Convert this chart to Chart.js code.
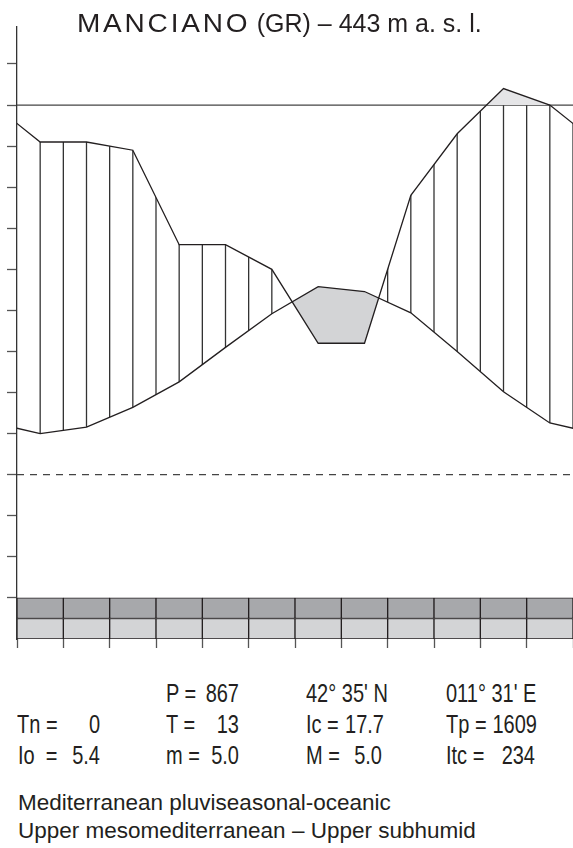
<!DOCTYPE html>
<html>
<head>
<meta charset="utf-8">
<title>Manciano</title>
<script src="https://cdn.jsdelivr.net/npm/chart.js@4.4.0/dist/chart.umd.min.js"></script>
<style>
    html, body { margin: 0; padding: 0; background: #fff; }
    #page { position: relative; width: 573px; height: 848px; overflow: hidden; color: #231f20; font-family: "Liberation Sans", Arial, sans-serif; }
    #wrap { position: absolute; left: 0; top: 0; width: 573px; height: 660px; }
    #title { position: absolute; left: 77px; top: 11px; font-size: 25px; line-height: 25px; white-space: nowrap; }
    #title span { display: inline-block; letter-spacing: 2.5px; transform: scaleX(1.12); transform-origin: 0 0; margin-right: 18px; }
    .cell { position: absolute; display: flex; justify-content: space-between; white-space: pre; font-size: 25px; line-height: 25px; transform: scaleX(0.8); transform-origin: 0 0; }
    .desc { position: absolute; left: 18px; font-size: 22.5px; line-height: 23px; white-space: nowrap; }
</style>
</head>
<body>
<div id="page">
    <div id="wrap"><canvas id="climChart"></canvas></div>
    <div id="title"><span>MANCIANO</span> (GR) – 443 m a. s. l.</div>
    <div id="stats"></div>
    <div class="desc" style="top:791px">Mediterranean pluviseasonal-oceanic</div>
    <div class="desc" style="top:819px">Upper mesomediterranean – Upper subhumid</div>
</div>
<script>
// data
const months = ['Jan', 'Feb', 'Mar', 'Apr', 'May', 'Jun', 'Jul', 'Aug', 'Sep', 'Oct', 'Nov', 'Dec'];
const temperature = [5.0, 5.8, 8.2, 11.3, 15.5, 19.6, 22.9, 22.3, 19.7, 15.0, 10.1, 6.3];   // °C
const precipitation = [81, 81, 79, 56, 56, 50, 32, 32, 68, 83, 94, 90];                   // mm
const frostUpper = [1, 1, 1, 1, 1, 1, 1, 1, 1, 1, 1, 1];
const frostLower = [1, 1, 1, 1, 1, 1, 1, 1, 1, 1, 1, 1];
const humidLine = 90;     // mm
const freezeLine = 0;     // °C
const tempMin = -20;
const tempMax = 54.5;
const tempTicks = [-15, 50];

// stats block under the chart: [row, left, width, label, value]
const stats = [
    [0, 166, 73, 'P =', '867'], [0, 306, 82, "42° 35' N", ''], [0, 446, 90, "011° 31' E", ''],
    [1, 17, 83, 'Tn =', '0'], [1, 166, 73, 'T =', '13'], [1, 306, 78, 'Ic =', '17.7'], [1, 446, 91, 'Tp =', '1609'],
    [2, 18, 82, 'Io  =', '5.4'], [2, 166, 73, 'm =', '5.0'], [2, 306, 76, 'M =', '5.0'], [2, 446, 89, 'Itc =', '234']
];
const rowTops = [681, 712, 743];
const narrow = 0.8;
const statsDiv = document.getElementById('stats');
stats.forEach(s => {
    const d = document.createElement('div');
    d.className = 'cell';
    d.style.top = rowTops[s[0]] + 'px';
    d.style.left = s[1] + 'px';
    d.style.width = (s[2] / narrow) + 'px';
    d.innerHTML = '<span></span><span></span>';
    d.children[0].textContent = s[3];
    d.children[1].textContent = s[4];
    statsDiv.appendChild(d);
});

// month centres, with Dec before and Jan after so the curve wraps to the edges
function monthSeries(values) {
    const pts = values.map((v, i) => ({ x: i + 0.5, y: v }));
    pts.unshift({ x: -0.5, y: values[values.length - 1] });
    pts.push({ x: values.length + 0.5, y: values[0] });
    return pts;
}
function bandSeries(flags, top, bottom) {
    return flags.map((f, i) => ({ x: i + 0.5, y: f ? [top, bottom] : null }));
}

// vertical hatching where rain is above temperature (below the humid line)
const hatchPlugin = {
    id: 'hatch',
    beforeDatasetsDraw(chart) {
        const { ctx, chartArea: a, scales } = chart;
        const rain = chart.getDatasetMeta(0).data;
        const temp = chart.getDatasetMeta(1).data;
        const yw = chart.getDatasetMeta(2).data[0].y;
        ctx.save();
        ctx.beginPath();
        ctx.rect(a.left, yw, a.right - a.left, a.bottom - yw);
        ctx.clip();
        ctx.beginPath();
        ctx.moveTo(rain[0].x, a.bottom);
        rain.forEach(p => ctx.lineTo(p.x, p.y));
        ctx.lineTo(rain[rain.length - 1].x, a.bottom);
        ctx.closePath();
        ctx.clip();
        ctx.beginPath();
        ctx.moveTo(temp[0].x, a.top);
        temp.forEach(p => ctx.lineTo(p.x, p.y));
        ctx.lineTo(temp[temp.length - 1].x, a.top);
        ctx.closePath();
        ctx.clip();
        ctx.strokeStyle = '#333';
        ctx.lineWidth = 1.3;
        ctx.beginPath();
        for (let k = 1; k <= months.length * 2; k++) {
            const px = scales.x.getPixelForValue(k / 2);
            ctx.moveTo(px, a.top);
            ctx.lineTo(px, a.bottom);
        }
        ctx.stroke();
        ctx.restore();
    }
};

const ctx = document.getElementById('climChart').getContext('2d');
new Chart(ctx, {
    type: 'line',
    data: {
        datasets: [
            {
                label: 'Precipitation',
                data: monthSeries(precipitation),
                yAxisID: 'yP',
                borderColor: '#231f20',
                borderWidth: 1.3,
                pointRadius: 0,
                fill: { target: 2, above: '#e5e5e7', below: 'rgba(0,0,0,0)' },
                order: 1
            },
            {
                label: 'Temperature',
                data: monthSeries(temperature),
                yAxisID: 'y',
                borderColor: '#231f20',
                borderWidth: 1.3,
                pointRadius: 0,
                fill: { target: 0, above: '#d3d4d6', below: 'rgba(0,0,0,0)' },
                order: 2
            },
            {
                label: 'Humid line',
                data: [{ x: 0, y: humidLine }, { x: months.length, y: humidLine }],
                yAxisID: 'yP',
                borderColor: '#444',
                borderWidth: 1.2,
                pointRadius: 0,
                order: 3
            },
            {
                label: 'Freezing line',
                data: [{ x: 0, y: freezeLine }, { x: months.length, y: freezeLine }],
                yAxisID: 'y',
                borderColor: '#444',
                borderWidth: 1.2,
                borderDash: [7, 6],
                pointRadius: 0,
                order: 4
            },
            {
                type: 'bar',
                label: 'Frost upper',
                data: bandSeries(frostUpper, -15, -17.5),
                yAxisID: 'y',
                backgroundColor: '#a7a8ab',
                borderColor: '#231f20',
                borderWidth: 1,
                borderSkipped: false,
                grouped: false,
                barPercentage: 1,
                categoryPercentage: 1,
                order: 5
            },
            {
                type: 'bar',
                label: 'Frost lower',
                data: bandSeries(frostLower, -17.5, -20),
                yAxisID: 'y',
                backgroundColor: '#d3d4d6',
                borderColor: '#231f20',
                borderWidth: 1,
                borderSkipped: false,
                grouped: false,
                barPercentage: 1,
                categoryPercentage: 1,
                order: 6
            }
        ]
    },
    options: {
        responsive: true,
        maintainAspectRatio: false,
        animation: false,
        layout: {
            padding: { top: 27, left: 7, right: 0, bottom: 12 }
        },
        elements: {
            line: { tension: 0 }
        },
        plugins: {
            legend: { display: false },
            tooltip: { enabled: false },
            title: { display: false }
        },
        scales: {
            x: {
                type: 'linear',
                min: 0,
                max: months.length,
                offset: false,
                ticks: { display: false, stepSize: 1 },
                grid: { offset: false, drawOnChartArea: false, drawTicks: true, tickLength: 9, tickColor: '#555', tickWidth: 1.3 },
                border: { display: false }
            },
            y: {
                position: 'left',
                min: tempMin,
                max: tempMax,
                stacked: false,
                ticks: { display: false, stepSize: 5 },
                afterBuildTicks: axis => {
                    axis.ticks = axis.ticks.filter(t => t.value >= tempTicks[0] && t.value <= tempTicks[1]);
                },
                grid: { drawOnChartArea: false, drawTicks: true, tickLength: 10, tickColor: '#555', tickWidth: 1.3 },
                border: { display: true, color: '#333', width: 1.3 }
            },
            yP: {
                display: false,
                min: tempMin * 2,
                max: tempMax * 2
            }
        }
    },
    plugins: [hatchPlugin]
});
</script>
</body>
</html>
